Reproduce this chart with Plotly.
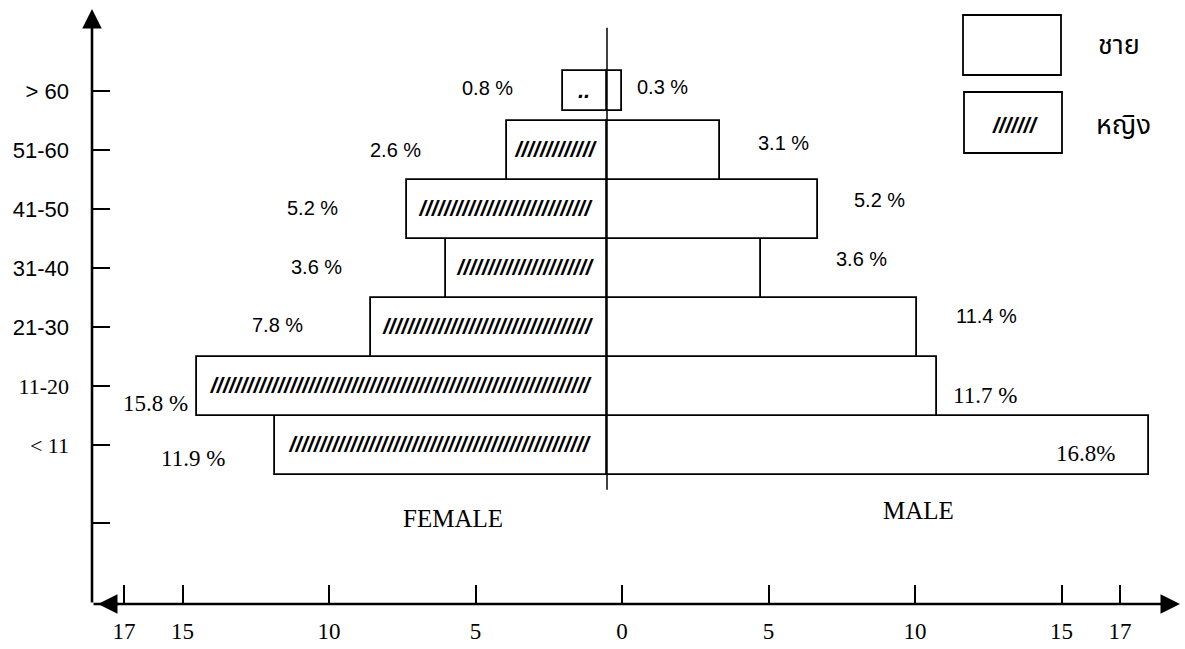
import plotly.graph_objects as go

# ---------------- data ----------------
age_groups = ["< 11", "11-20", "21-30", "31-40", "41-50", "51-60", "> 60"]
female_pct = [11.9, 15.8, 7.8, 3.6, 5.2, 2.6, 0.8]
male_pct = [16.8, 11.7, 11.4, 3.6, 5.2, 3.1, 0.3]
# bar extents as they are drawn in the original (hand-drawn, not to scale)
female_drawn = [11.33, 13.99, 8.05, 5.49, 6.83, 3.41, 1.50]
male_drawn = [18.50, 11.26, 10.58, 5.26, 7.20, 3.86, 0.51]
x_tickvals = [-17, -15, -10, -5, 0, 5, 10, 15, 17]
x_ticktext = ["17", "15", "10", "5", "0", "5", "10", "15", "17"]
legend_labels = ["ชาย", "หญิง"]
side_labels = ["FEMALE", "MALE"]

# ---------------- styling ----------------
W, H = 1185, 649
ML, MR, MT, MB = 92, 5, 0, 45
PW, PH = W - ML - MR, H - MT - MB
PX = 29.3                     # pixels per percent unit
ZERO_TICK = 530               # plot-relative pixel of tick "0"
ZERO_BAR = 515                # plot-relative pixel of bar baseline
PY = 59                       # pixels per age group
Y0_PX = 445                   # pixel row of first age group

SANS = "Liberation Sans, Arial, sans-serif"
SERIF = "Liberation Serif, Times New Roman, serif"
THAI = "Noto Sans Thai, Noto Serif Thai, Loma, Garuda, Norasi, Tlwg Typo, sans-serif"

serif_labels = {"11-20", "< 11"}
y_ticktext = [""] + [
    (f'<span style="font-family:{SERIF}">{g}</span>' if g in serif_labels else g)
    for g in age_groups
]
y_pos = list(range(len(age_groups)))
y_tickvals = [-1.32] + y_pos

bar_widths = [1, 1, 1, 1, 1, 1, 0.68]

# hatch marks inside female bars (decoration sized to bar)
female_hatch = []
for v in female_drawn:
    n = int((v * PX - 18) / 6.3)
    female_hatch.append("/" * n if n > 4 else "..")

# label offsets (pixels) relative to bar ends
f_dx = [-82, -42, -94, -130, -94, -112, -76]
f_dy = [-13, -17, 2, 1, 1, 0, 3]
f_font = [SERIF, SERIF, SANS, SANS, SANS, SANS, SANS]
m_dx = [-64, 48, 70, 100, 62, 63, 41]
m_dy = [-8, -9, 11, 9, 9, 7, 4]
m_font = [SERIF, SERIF, SANS, SANS, SANS, SANS, SANS]


def px_x(p):
    return (p - ML) / PW


def px_y(p):
    return (PH - (p - MT)) / PH


fig = go.Figure()

# empty trace so that the tick axis (x / y) forms a drawn subplot
fig.add_trace(go.Scatter(x=[None], y=[None], xaxis="x", yaxis="y",
                         showlegend=False, hoverinfo="skip"))

fig.add_trace(go.Bar(
    y=y_pos, x=male_drawn, orientation="h", xaxis="x2", yaxis="y",
    width=bar_widths, marker=dict(color="white", line=dict(color="black", width=1.8)),
    showlegend=False, hoverinfo="skip",
))
fig.add_trace(go.Bar(
    y=y_pos, x=[-v for v in female_drawn], orientation="h", xaxis="x2", yaxis="y",
    width=bar_widths, marker=dict(color="white", line=dict(color="black", width=1.8)),
    text=female_hatch, textposition="inside", insidetextanchor="middle",
    textfont=dict(family=SANS, size=22, color="black", weight="bold", style="italic"),
    constraintext="none", textangle=0,
    showlegend=False, hoverinfo="skip",
))

annotations = []
# percentage labels
for i in range(len(age_groups)):
    size_f = 23 if f_font[i] == SERIF else 20
    annotations.append(dict(
        x=-female_drawn[i], y=y_pos[i], xref="x2", yref="y",
        text=f"{female_pct[i]} %", showarrow=False, xanchor="center", yanchor="middle",
        xshift=f_dx[i], yshift=f_dy[i],
        font=dict(family=f_font[i], size=size_f, color="black"),
    ))
    m_txt = f"{male_pct[i]}%" if i == 0 else f"{male_pct[i]} %"
    size_m = 23 if m_font[i] == SERIF else 20
    annotations.append(dict(
        x=male_drawn[i], y=y_pos[i], xref="x2", yref="y",
        text=m_txt, showarrow=False, xanchor="center", yanchor="middle",
        xshift=m_dx[i], yshift=m_dy[i],
        font=dict(family=m_font[i], size=size_m, color="black"),
    ))

# FEMALE / MALE
annotations.append(dict(x=px_x(453), y=px_y(518), xref="paper", yref="paper",
                        text=side_labels[0], showarrow=False,
                        xanchor="center", yanchor="middle",
                        font=dict(family=SERIF, size=25, color="black")))
annotations.append(dict(x=px_x(918), y=px_y(510), xref="paper", yref="paper",
                        text=side_labels[1], showarrow=False,
                        xanchor="center", yanchor="middle",
                        font=dict(family=SERIF, size=25, color="black")))

# legend texts
annotations.append(dict(x=px_x(1096), y=px_y(46), xref="paper", yref="paper",
                        text=legend_labels[0], showarrow=False,
                        xanchor="left", yanchor="middle",
                        font=dict(family=THAI, size=27, color="black")))
annotations.append(dict(x=px_x(1094), y=px_y(126), xref="paper", yref="paper",
                        text=legend_labels[1], showarrow=False,
                        xanchor="left", yanchor="middle",
                        font=dict(family=THAI, size=27, color="black")))
annotations.append(dict(x=px_x(1015), y=px_y(126), xref="paper", yref="paper",
                        text="///////", showarrow=False,
                        xanchor="center", yanchor="middle",
                        font=dict(family=SANS, size=22, color="black",
                                  weight="bold", style="italic")))

# axis lines with arrowheads
arrow = dict(showarrow=True, arrowhead=2, arrowsize=1.5, arrowwidth=2.6, arrowcolor="black",
             text="", xref="paper", yref="paper", axref="pixel", ayref="pixel")
annotations.append(dict(arrow, x=0, y=px_y(9), ax=0, ay=PH - 9))
annotations.append(dict(arrow, x=1.0, y=0, ax=-PW, ay=0))
annotations.append(dict(arrow, x=px_x(98), y=0, ax=22, ay=0))

shapes = [
    # centre line
    dict(type="line", xref="x2", yref="y", x0=0, x1=0, y0=-0.76, y1=7.07,
         line=dict(color="black", width=1.5), layer="above"),
    # legend boxes
    dict(type="rect", xref="paper", yref="paper",
         x0=px_x(963), x1=px_x(1061), y0=px_y(75), y1=px_y(15),
         line=dict(color="black", width=1.8)),
    dict(type="rect", xref="paper", yref="paper",
         x0=px_x(964), x1=px_x(1062), y0=px_y(153), y1=px_y(92),
         line=dict(color="black", width=1.8)),
]

fig.update_layout(
    width=W, height=H,
    margin=dict(l=ML, r=MR, t=MT, b=MB, pad=0),
    paper_bgcolor="white", plot_bgcolor="white",
    barmode="overlay", bargap=0,
    xaxis=dict(range=[-ZERO_TICK / PX, (PW - ZERO_TICK) / PX],
               tickvals=x_tickvals, ticktext=x_ticktext,
               ticks="inside", ticklen=19, tickwidth=2, tickcolor="black",
               showline=False, showgrid=False, zeroline=False,
               tickfont=dict(family=SERIF, size=23, color="black"),
               ticklabelstandoff=11, fixedrange=True),
    xaxis2=dict(range=[-ZERO_BAR / PX, (PW - ZERO_BAR) / PX], overlaying="x",
                anchor="y", visible=False, fixedrange=True),
    yaxis=dict(range=[-(PH - Y0_PX) / PY, Y0_PX / PY],
               tickvals=y_tickvals, ticktext=y_ticktext,
               ticks="inside", ticklen=18, tickwidth=2, tickcolor="black",
               showline=False, showgrid=False, zeroline=False,
               tickfont=dict(family=SANS, size=22, color="black"),
               ticklabelstandoff=22, fixedrange=True),
    annotations=annotations,
    shapes=shapes,
)

fig.write_html("out.html", config={"displayModeBar": False},
               post_script="document.body.style.margin='0px';")
